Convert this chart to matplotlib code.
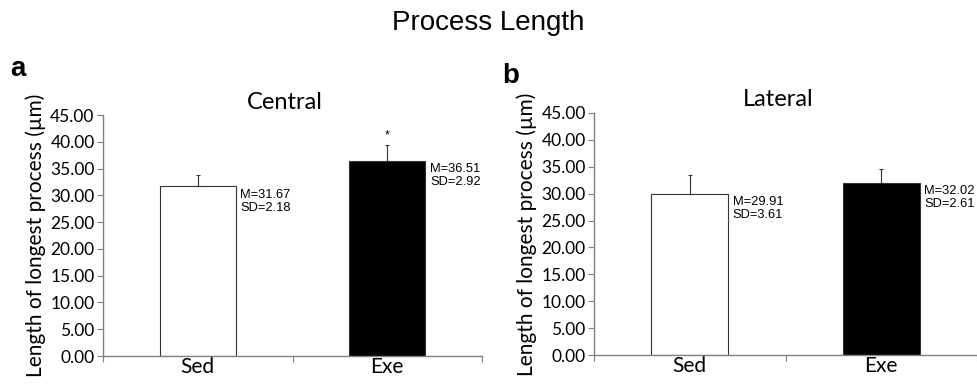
import matplotlib.pyplot as plt

groups = ["Sed", "Exe"]
central_mean = [31.67, 36.51]
central_sd = [2.18, 2.92]
lateral_mean = [29.91, 32.02]
lateral_sd = [3.61, 2.61]
yticks = [0, 5, 10, 15, 20, 25, 30, 35, 40, 45]

fig = plt.figure(figsize=(9.77, 3.86), dpi=100)
fig.text(0.5, 0.94, "Process Length", ha="center", va="center",
         fontsize=20, family="Liberation Sans")


def panel(rect, means, sds, title, letter, letter_xy, title_y, star=None):
    ax = fig.add_axes(rect)
    x = [0.5, 1.5]
    ax.bar(x, means, width=0.4, color=["white", "black"],
           edgecolor="#333333", linewidth=0.8, zorder=2)
    ax.errorbar(x, means, yerr=[[0, 0], sds], fmt="none", ecolor="#333333",
                elinewidth=0.8, capsize=1.5, capthick=0.8, zorder=3)
    for xi, m, s in zip(x, means, sds):
        ax.text(xi + 0.225, m - 0.4, f"M={m:.2f}\nSD={s:.2f}", ha="left", va="top",
                fontsize=9.3, family="Liberation Sans", linespacing=1.1)
    if star is not None:
        ax.text(x[star], means[star] + sds[star] + 0.6, "*", ha="center",
                va="bottom", fontsize=9, family="Liberation Sans")
    ax.set_xlim(0, 2)
    ax.set_ylim(0, 45)
    ax.set_yticks(yticks)
    ax.set_yticklabels([f"{v:.2f}" for v in yticks])
    ax.set_xticks([0, 1, 2])
    ax.set_xticklabels([])
    ax.set_xticks(x, minor=True)
    ax.set_xticklabels(groups, minor=True)
    ax.tick_params(axis="x", which="minor", length=0, labelsize=15, pad=1)
    ax.tick_params(axis="x", which="major", length=4, color="#808080", direction="out")
    ax.tick_params(axis="y", length=4, color="#808080", labelsize=12.5, pad=2)
    for lab in ax.get_xticklabels(minor=True) + ax.get_yticklabels():
        lab.set_family("Lato")
    for s in ["top", "right"]:
        ax.spines[s].set_visible(False)
    for s in ["left", "bottom"]:
        ax.spines[s].set_color("#808080")
        ax.spines[s].set_linewidth(1.0)
    ax.set_ylabel("Length of longest process (µm)", fontsize=15, family="Lato", labelpad=3)
    fig.text(rect[0] + rect[2] * 0.48, title_y, title, ha="center", va="center",
             fontsize=17, family="Lato")
    fig.text(letter_xy[0], letter_xy[1], letter, ha="left", va="center",
             fontsize=20, fontweight="bold", family="Liberation Sans")
    return ax


panel([0.1054, 0.0777, 0.388, 0.624], central_mean, central_sd, "Central", "a",
      (0.010, 0.822), 0.735, star=1)
panel([0.608, 0.0803, 0.392, 0.627], lateral_mean, lateral_sd, "Lateral", "b",
      (0.514, 0.803), 0.743)

plt.savefig("out.png", dpi=100)
